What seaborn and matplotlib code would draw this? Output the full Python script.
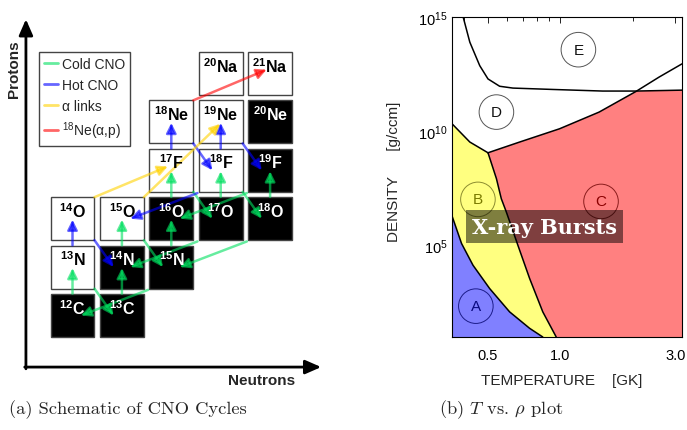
import numpy as np
import matplotlib
matplotlib.use("Agg")
import matplotlib.pyplot as plt
import seaborn as sns
from matplotlib.patches import Rectangle
from matplotlib.lines import Line2D
from matplotlib.ticker import NullLocator, NullFormatter

sns.set_style("white")
plt.rcParams['font.family'] = ['Liberation Sans', 'DejaVu Sans']
plt.rcParams['mathtext.fontset'] = 'custom'
plt.rcParams['mathtext.rm'] = 'Liberation Sans'
plt.rcParams['mathtext.bf'] = 'Liberation Sans:bold'
plt.rcParams['mathtext.it'] = 'Liberation Sans:italic'

# ---------------- (a) CNO nuclides ----------------
nuc_z = [6, 6, 7, 7, 7, 8, 8, 8, 8, 8, 9, 9, 9, 10, 10, 10, 11, 11]
nuc_n = [6, 7, 6, 7, 8, 6, 7, 8, 9, 10, 8, 9, 10, 8, 9, 10, 9, 10]
nuc_sym = ['C', 'C', 'N', 'N', 'N', 'O', 'O', 'O', 'O', 'O', 'F', 'F', 'F',
           'Ne', 'Ne', 'Ne', 'Na', 'Na']
nuc_stable = [1, 1, 0, 1, 1, 0, 0, 1, 1, 1, 0, 0, 1, 0, 0, 1, 0, 0]

# reactions: (Z_from, N_from, Z_to, N_to, kind)
reactions = [
    (6, 6, 7, 6, 'cold'), (7, 6, 6, 7, 'cold'), (6, 7, 7, 7, 'cold'),
    (7, 7, 8, 7, 'cold'), (8, 7, 7, 8, 'cold'), (7, 8, 6, 6, 'cold'),
    (7, 8, 8, 8, 'cold'), (8, 8, 9, 8, 'cold'), (9, 8, 8, 9, 'cold'),
    (8, 9, 7, 7, 'cold'), (8, 9, 9, 9, 'cold'), (9, 9, 8, 10, 'cold'),
    (8, 10, 7, 8, 'cold'), (8, 10, 9, 10, 'cold'), (9, 10, 8, 8, 'cold'),
    (7, 6, 8, 6, 'hot'), (8, 6, 7, 7, 'hot'), (9, 8, 10, 8, 'hot'),
    (10, 8, 9, 9, 'hot'), (9, 9, 10, 9, 'hot'), (10, 9, 9, 10, 'hot'),
    (9, 9, 8, 7, 'hot'),
    (8, 6, 9, 8, 'alpha'), (8, 7, 10, 9, 'alpha'),
    (10, 8, 11, 10, 'ne18'),
]
kind_color = {'cold': '#00e060', 'hot': '#0000ff', 'alpha': '#ffd200', 'ne18': '#ff0000'}
kind_label = {'cold': 'Cold CNO', 'hot': 'Hot CNO', 'alpha': 'α links',
              'ne18': r'$^{18}$Ne(α,p)'}

# ---------------- (b) T-rho regions ----------------
ab_T = [0.356, 0.390, 0.435, 0.510, 0.617, 0.747, 0.847]
ab_lr = [6.30, 5.09, 4.14, 3.12, 2.10, 1.38, 1.0]
bc_T = [0.502, 0.544, 0.570, 0.598, 0.668, 0.747, 0.847, 0.963]
bc_lr = [9.06, 7.93, 7.05, 6.47, 5.01, 3.56, 2.10, 1.0]
bd_T = [0.356, 0.422, 0.502]
bd_lr = [10.33, 9.53, 9.06]
dc_T = [0.502, 0.679, 0.994, 1.45, 2.06, 2.57, 3.2]
dc_lr = [9.06, 9.53, 10.11, 10.84, 11.74, 12.37, 12.95]
de_T = [0.396, 0.422, 0.464, 0.502, 0.561, 0.637, 0.932, 1.50, 2.06, 3.2]
de_lr = [15.0, 13.90, 12.87, 12.29, 11.97, 11.89, 11.83, 11.76, 11.76, 11.80]
circ_lbl = ['E', 'D', 'B', 'C', 'A']
circ_T = [1.19, 0.544, 0.456, 1.477, 0.447]
circ_lr = [13.57, 10.84, 7.02, 6.93, 2.35]
circ_col = ['#555555', '#555555', '#8c8c30', '#8a1c1c', '#1c1c8a']
txt_col = ['#111111', '#111111', '#7a7a00', '#8a0000', '#0a0a80']

fig = plt.figure(figsize=(6.87, 4.31), dpi=100)

# ===== left panel =====
ax1 = fig.add_axes([0, 0, 0.5, 1])
ax1.set_xlim(4.532, 11.486)
ax1.set_ylim(3.634, 12.539)
ax1.axis('off')

hb = 0.445
for z, n, s, st in zip(nuc_z, nuc_n, nuc_sym, nuc_stable):
    ax1.add_patch(Rectangle((n - hb, z - hb), 2 * hb, 2 * hb,
                            facecolor='black' if st else 'white',
                            edgecolor='#444444', lw=1.0, zorder=1))
    ax1.text(n, z + 0.17, r'$^{\mathbf{%d}}$%s' % (z + n, s),
             ha='center', va='center', fontsize=11.5, fontweight='bold',
             color='white' if st else 'black', zorder=5)

for zs, ns, zt, nt, kind in reactions:
    dz, dn = zt - zs, nt - ns
    if dz == 1 and dn == 0:        # (p,g)
        start, end = (ns, zs + 0.45), (nt, zt - 0.02)
    elif dz == -1 and dn == 1:     # beta+
        start, end = (ns + 0.445, zs - 0.445), (nt - 0.17, zt)
    elif dz == -1 and dn == -2:    # (p,a)
        start, end = (ns - 0.47, zs - 0.47), (nt + 0.17, zt)
    elif dz == 2:                  # (a,g)
        start, end = (ns + 0.445, zs + 0.445), (nt - 0.01, zt - 0.04)
    else:                          # (a,p)
        start, end = (ns + 0.445, zs + 0.445), (nt - 0.07, zt + 0.08)
    ax1.annotate('', xy=end, xytext=start, zorder=3,
                 arrowprops=dict(arrowstyle='-|>,head_length=0.6,head_width=0.3',
                                 color=kind_color[kind], alpha=0.6, lw=1.8,
                                 shrinkA=0, shrinkB=0, mutation_scale=10))

handles = [Line2D([], [], color=kind_color[k], alpha=0.6, lw=2) for k in kind_label]
leg = ax1.legend(handles, list(kind_label.values()), loc='upper left',
                 bbox_to_anchor=(39 / 343.5, 1 - 53 / 431), borderaxespad=0,
                 fontsize=10, frameon=True, fancybox=False, framealpha=1,
                 edgecolor='#444444', handlelength=1.0, handletextpad=0.3,
                 borderpad=0.35, labelspacing=0.5)
leg.get_frame().set_linewidth(1.0)

# axis arrows
ax1.annotate('', xy=(0.0755, 0.953), xytext=(0.0755, 0.142), xycoords='axes fraction',
             arrowprops=dict(arrowstyle='-|>,head_length=0.8,head_width=0.35',
                             color='black', lw=2, shrinkA=0, shrinkB=0, mutation_scale=12))
ax1.annotate('', xy=(0.935, 0.146), xytext=(0.072, 0.146), xycoords='axes fraction',
             arrowprops=dict(arrowstyle='-|>,head_length=0.8,head_width=0.35',
                             color='black', lw=2, shrinkA=0, shrinkB=0, mutation_scale=12))
fig.text(14 / 687, 1 - 69 / 431, 'Protons', rotation=90, ha='center', va='center',
         fontsize=11, fontweight='bold')
fig.text(262 / 687, 1 - 381 / 431, 'Neutrons', ha='center', va='center',
         fontsize=11, fontweight='bold')

# ===== right panel =====
ax2 = fig.add_axes([452 / 687, 1 - 338 / 431, 230 / 687, 320 / 431])
ax2.set_xscale('log')
ax2.set_yscale('log')
ax2.set_xlim(0.356, 3.2)
ax2.set_ylim(1e1, 1e15)

ab_rho = 10 ** np.array(ab_lr)
bc_rho = 10 ** np.array(bc_lr)
bd_rho = 10 ** np.array(bd_lr)
dc_rho = 10 ** np.array(dc_lr)
de_rho = 10 ** np.array(de_lr)

# blue (A)
ax2.fill(ab_T + [0.356], list(ab_rho) + [1e1], color='#8080ff', lw=0, zorder=1)
# yellow (B)
yb_T = [0.356] + ab_T + bc_T[::-1] + bd_T[::-1]
yb_r = [bd_rho[0]] + list(ab_rho) + list(bc_rho[::-1]) + list(bd_rho[::-1])
ax2.fill(yb_T, yb_r, color='#ffff80', lw=0, zorder=1)
# red (C)
rc_T = bc_T + [3.2, 3.2, 2.06] + dc_T[4::-1]
rc_r = list(bc_rho) + [1e1, de_rho[-1], de_rho[-2]] + list(dc_rho[4::-1])
ax2.fill(rc_T, rc_r, color='#ff8080', lw=0, zorder=1)

for xs, ys in [(ab_T, ab_rho), (bc_T, bc_rho), (bd_T, bd_rho), (dc_T, dc_rho), (de_T, de_rho)]:
    sns.lineplot(x=xs, y=ys, sort=False, estimator=None, color='black', lw=1.1,
                 ax=ax2, zorder=2)

ax2.scatter(circ_T, 10 ** np.array(circ_lr), s=620, facecolors='none',
            edgecolors=circ_col, linewidths=0.7, zorder=3)
for l, t, r, c in zip(circ_lbl, circ_T, circ_lr, txt_col):
    ax2.text(t, 10 ** r, l, ha='center', va='center', fontsize=11, color=c, zorder=4)

ax2.text(0.859, 10 ** 5.83, 'X-ray Bursts', ha='center', va='center', color='white',
         fontsize=15, fontweight='bold', family='DejaVu Serif', zorder=6,
         bbox=dict(boxstyle='square,pad=0.3', facecolor='black', alpha=0.5, edgecolor='none'))

ax2.set_xticks([0.5, 1.0, 3.0])
ax2.set_xticklabels(['0.5', '1.0', '3.0'])
ax2.set_xticks([0.4, 0.6, 0.7, 0.8, 0.9, 2.0], minor=True)
ax2.xaxis.set_minor_formatter(NullFormatter())
ax2.set_yticks([1e5, 1e10, 1e15])
ax2.set_yticklabels([r'$10^{5}$', r'$10^{10}$', r'$10^{15}$'])
ax2.yaxis.set_minor_locator(NullLocator())
ax2.tick_params(which='both', direction='in', top=True, right=True, width=0.6,
                labelsize=10.5, colors='black')
ax2.tick_params(which='major', length=4)
ax2.tick_params(which='minor', length=3)
ax2.tick_params(axis='x', pad=8)
ax2.tick_params(axis='y', pad=3)
for sp in ax2.spines.values():
    sp.set_color('black')
    sp.set_linewidth(0.8)
ax2.set_xlabel('TEMPERATURE    [GK]', fontsize=11)
ax2.set_ylabel('DENSITY      [g/ccm]', fontsize=11)
ax2.xaxis.set_label_coords(0.478, -0.112)
ax2.yaxis.set_label_coords(-0.222, 0.519)

# captions
fig.text(128 / 687, 1 - 410 / 431, '(a) Schematic of CNO Cycles', family='cmr10',
         fontsize=13.3, ha='center', va='center')
fig.text(501 / 687, 1 - 410 / 431, r'(b) $T$ vs. $\rho$ plot', family='cmr10',
         math_fontfamily='cm', fontsize=13.3, ha='center', va='center')

fig.savefig('out.png', dpi=100)
